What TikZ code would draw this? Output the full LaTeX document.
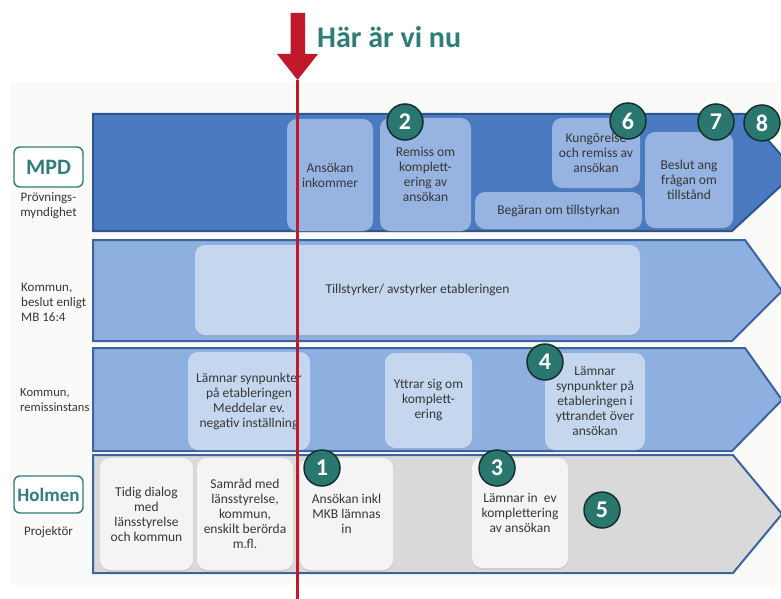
\documentclass[tikz,border=0pt]{standalone}
\usepackage{fontspec}
\setmainfont{Carlito}
\usetikzlibrary{shadows}
\definecolor{tealc}{HTML}{2E7D78}
\definecolor{circfill}{HTML}{2A7770}
\definecolor{circdraw}{HTML}{17302E}
\definecolor{redc}{HTML}{C2182B}
\definecolor{bandA}{HTML}{4A7AC0}
\definecolor{bandAline}{HTML}{2F5590}
\definecolor{bandB}{HTML}{8DB0E0}
\definecolor{bandline}{HTML}{3C63A0}
\definecolor{bandC}{HTML}{D9D9D9}
\definecolor{boxAc}{HTML}{97B3E1}
\definecolor{boxBc}{HTML}{C5D7EF}
\definecolor{boxCc}{HTML}{F4F4F4}
\definecolor{txt}{HTML}{363636}
\definecolor{panel}{HTML}{FAFAF8}
\begin{document}
\begin{tikzpicture}[x=1pt,y=-1pt,
  bandone/.style={fill=bandA,draw=bandAline,line width=2pt,line join=miter},
  bandtwo/.style={fill=bandB,draw=bandline,line width=2pt,line join=miter},
  bandfour/.style={fill=bandC,draw=bandline,line width=2pt,line join=miter},
  boxbase/.style={rounded corners=10pt,align=center,text=txt,inner sep=1pt,
    font=\fontsize{13.5}{15}\selectfont,
    drop shadow={opacity=0.18,shadow xshift=0pt,shadow yshift=-1.5pt}},
  boxa/.style={boxbase,fill=boxAc},
  boxb/.style={boxbase,fill=boxBc},
  boxc/.style={boxbase,fill=boxCc},
  num/.style={circle,fill=circfill,draw=circdraw,line width=1.5pt,minimum size=36pt,
    inner sep=0pt,text=white,font=\fontsize{24}{24}\selectfont\bfseries},
  lblbox/.style={rounded corners=6pt,draw=tealc,line width=1.4pt,fill=white,
    text=tealc,font=\bfseries},
  lbl/.style={text=txt,font=\fontsize{13}{15}\selectfont,inner sep=0pt}]
\useasboundingbox (0,0) rectangle (781,599);
\clip (0,0) rectangle (781,599);
\fill[white] (0,0) rectangle (781,599);
\fill[panel] (10,82) rectangle (781,585);

% bands
\draw[bandone] (93,114) -- (745,114) -- (796,172) -- (732,231) -- (93,231) -- cycle;
\draw[bandtwo] (93,240) -- (745,240) -- (782,291) -- (732,341) -- (93,341) -- cycle;
\draw[bandtwo] (93,348) -- (745,348) -- (782,400) -- (732,451) -- (93,451) -- cycle;
\draw[bandfour] (93,455) -- (733,455) -- (782,514) -- (733,573) -- (93,573) -- cycle;

% left labels
\node[lblbox,minimum width=69pt,minimum height=40pt,font=\fontsize{22}{22}\selectfont\bfseries] (mpd) at (48.5,167) {MPD};
\node[lbl,align=center] (mpdsub) at (48.5,206) {Prövnings-\\myndighet};
\node[lbl,align=left,anchor=west] (kom1) at (21,302) {Kommun,\\beslut enligt\\MB 16:4};
\node[lbl,align=left,anchor=west,font=\fontsize{12.6}{15}\selectfont] (kom2) at (20,400) {Kommun,\\remissinstans};
\node[lblbox,minimum width=69pt,minimum height=37pt,inner sep=0pt,font=\fontsize{19}{19}\selectfont\bfseries] (holmen) at (48.5,494.5) {Holmen};
\node[lbl,align=center] (proj) at (48.5,532) {Projektör};

% band 1 boxes
\node[boxa,minimum width=86pt,minimum height=112pt] (ansin) at (330,175) {Ansökan\\inkommer};
\node[boxa,minimum width=91pt,minimum height=113pt] (remiss) at (425.5,174.5) {Remiss om\\komplett-\\ering av\\ansökan};
\node[boxa,minimum width=88pt,minimum height=70pt] (kung) at (596,153) {Kungörelse\\och remiss av\\ansökan};
\node[boxa,minimum width=167pt,minimum height=37pt] (beg) at (558.5,210.5) {Begäran om tillstyrkan};
\node[boxa,minimum width=88pt,minimum height=96pt] (beslut) at (689,180) {Beslut ang\\frågan om\\tillstånd};

% band 2 box
\node[boxb,minimum width=445pt,minimum height=90pt] (till) at (417.5,290) {Tillstyrker/ avstyrker etableringen};

% band 3 boxes
\node[boxb,minimum width=122pt,minimum height=98pt] (lamn1) at (249,401) {Lämnar synpunkter\\på etableringen\\Meddelar ev.\\negativ inställning};
\node[boxb,minimum width=87pt,minimum height=95pt] (yttr) at (428.5,400.5) {Yttrar sig om\\komplett-\\ering};
\node[boxb,minimum width=100pt,minimum height=97pt] (lamn2) at (595,401.5) {Lämnar\\synpunkter på\\etableringen i\\yttrandet över\\ansökan};

% band 4 boxes
\node[boxc,minimum width=93pt,minimum height=112pt] (tidig) at (146.5,514) {Tidig dialog\\med\\länsstyrelse\\och kommun};
\node[boxc,minimum width=96pt,minimum height=112pt] (samrad) at (245,514) {Samråd med\\länsstyrelse,\\kommun,\\enskilt berörda\\m.fl.};
\node[boxc,minimum width=93pt,minimum height=112pt] (ansmkb) at (346.5,514) {Ansökan inkl\\MKB lämnas\\in};
\node[boxc,minimum width=96pt,minimum height=110pt] (lamnin) at (520,513) {Lämnar in\ \ ev\\komplettering\\av ansökan};

% numbered circles
\node[num] (n1) at (322,468) {1};
\node[num] (n2) at (405,122) {2};
\node[num] (n3) at (497,468) {3};
\node[num] (n4) at (545,362) {4};
\node[num] (n5) at (602,510) {5};
\node[num] (n6) at (628,121) {6};
\node[num] (n7) at (716,122) {7};
\node[num] (n8) at (762,123) {8};

% "Här är vi nu" marker
\coordinate (tip) at (297.5,80);
\coordinate (bot) at (297.5,599);
\fill[redc] (290.5,13) -- (305,13) -- (305,54) -- (318,54) -- (tip) -- (277,54) -- (290.5,54) -- cycle;
\draw[redc,line width=3pt] (tip) -- (bot);
\node[anchor=west,text=tealc,font=\fontsize{30}{30}\selectfont\bfseries,inner sep=0pt] (title) at (317,37) {Här är vi nu};
\end{tikzpicture}
\end{document}
